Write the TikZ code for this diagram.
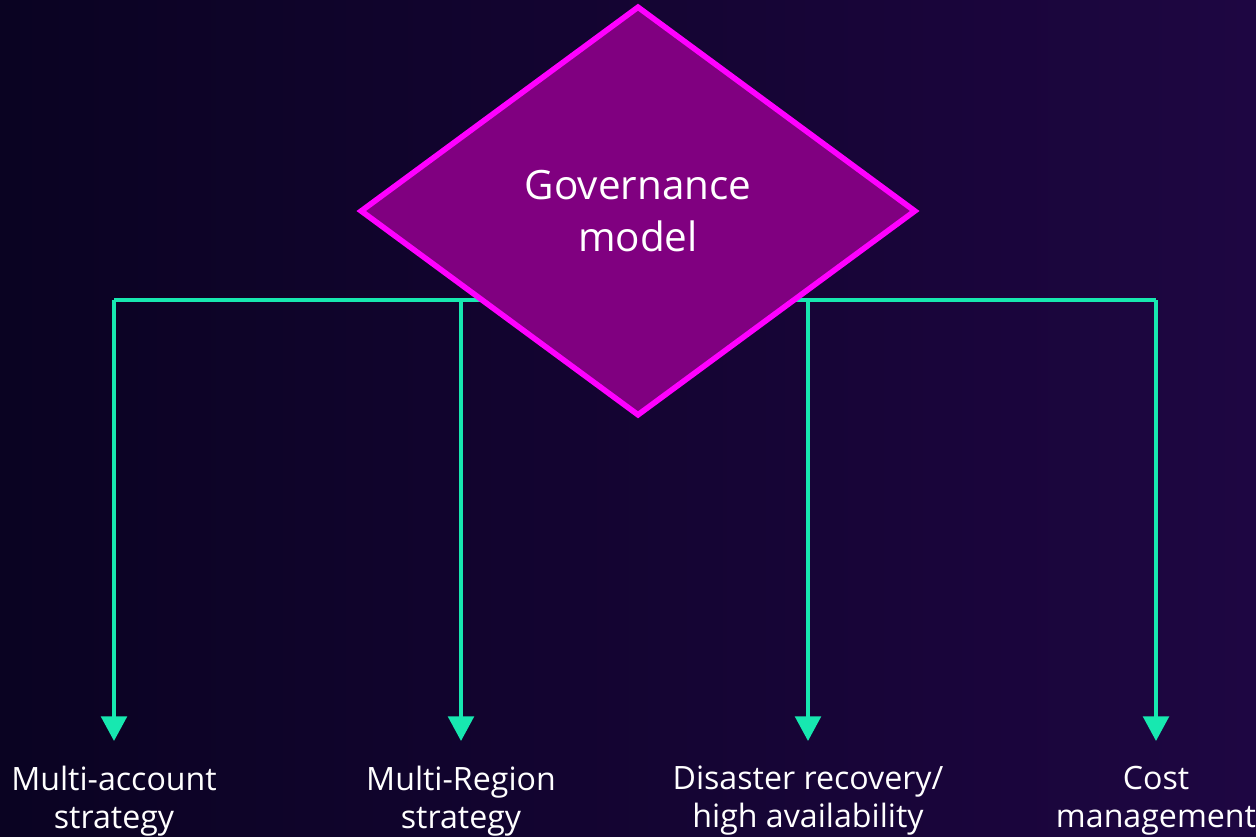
\documentclass[tikz,border=0pt]{standalone}
\usepackage{fontspec}
\setmainfont{Open Sans}
\usetikzlibrary{shapes.geometric, arrows.meta, backgrounds}

\definecolor{bgleft}{HTML}{0A0322}
\definecolor{bgright}{HTML}{1E0642}
\definecolor{govfill}{HTML}{800080}
\definecolor{govline}{HTML}{FF00FF}
\definecolor{branch}{HTML}{17E8B0}

\tikzset{
  govshape/.style={diamond, draw=govline, fill=govfill, line width=3.2pt, minimum width=11.12cm, minimum height=8.2cm, inner sep=0pt, text=white, align=center, font=\fontsize{23}{29.5}\selectfont},
  leaf/.style={anchor=north, text=white, align=center, inner sep=0pt, font=\fontsize{18.3}{21.6}\selectfont},
  branchline/.style={draw=branch, line width=2.2pt},
  branchtip/.style={-{Triangle[width=14.5pt,length=14pt]}, shorten >=0.5cm}
}

\begin{document}
\begin{tikzpicture}[x=0.02cm, y=-0.02cm]
  \useasboundingbox (0,0) rectangle (1256,836);
  \node[govshape] (gov) at (638,211) {Governance\\model};
  \coordinate (barw) at (114,300);
  \coordinate (bare) at (1156,300);

  \node[leaf] (acct)   at (114,766)  {Multi-account\\strategy};
  \node[leaf] (region) at (461,766)  {Multi-Region\\strategy};
  \node[leaf] (dr)     at (808,766)  {Disaster recovery/\\high availability};
  \node[leaf] (cost)   at (1156,766) {Cost\\management};

  \begin{pgfonlayer}{background}
    \shade[left color=bgleft, right color=bgright] (0,0) rectangle (1256,836);
    \draw[branchline] (barw) -- (bare);
    \foreach \n in {acct, region, dr, cost}
      \draw[branchline, branchtip] (\n |- barw) -- (\n.north);
  \end{pgfonlayer}
\end{tikzpicture}
\end{document}
